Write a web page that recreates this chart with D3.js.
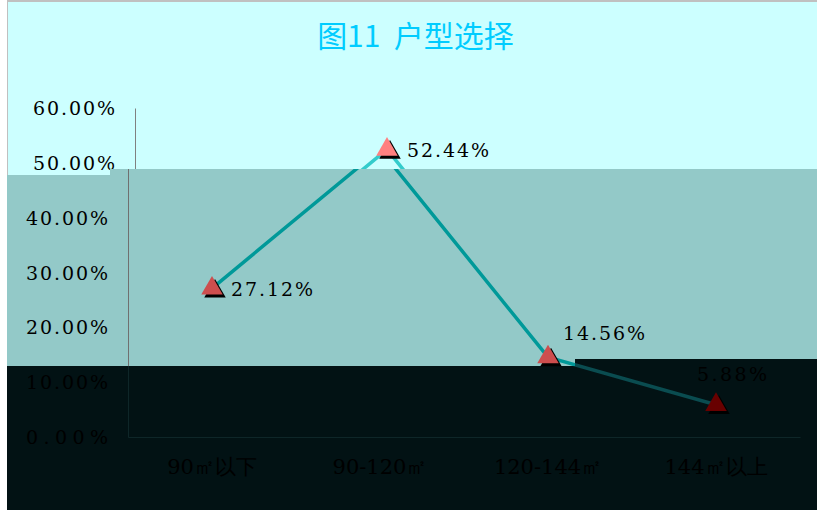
<!DOCTYPE html>
<html><head><meta charset="utf-8">
<script src="https://cdn.jsdelivr.net/npm/d3@7"></script>
<style>body{margin:0;background:#fff}svg{display:block}</style>
</head><body>
<svg id="c" width="817" height="510"></svg>
<script>
const title = "图11  户型选择";
const categories = ["90㎡以下", "90-120㎡", "120-144㎡", "144㎡以上"];
const values = [27.12, 52.44, 14.56, 5.88];
const yTicks = [0, 10, 20, 30, 40, 50, 60];

const W = 817, H = 510;
const svg = d3.select("#c");
const x = d3.scaleBand().domain(categories).range([128, 800]).padding(0);
const y = d3.scaleLinear().domain([0, 60]).range([437, 108]);
const fmt = v => v.toFixed(2) + "%";
const cx = i => x(categories[i]) + x.bandwidth() / 2;

const palettes = {
  top:  {bg:"#CCFFFF", line:"#33CCCC", tri:"#FF8080", axis:"#808080", text:"#000"},
  mid:  {bg:"#93C9C8", line:"#009999", tri:"#CD4E4E", axis:"#707070", text:"#000"},
  dark: {bg:"#021214", line:"#0A4C50", tri:"#680000", axis:"#0E2628", text:"#000"}
};

const defs = svg.append("defs");
const regions = {
  top: "M7,0 H817 V169 H110 V175 H7 Z",
  mid: "M7,175 H110 V169 H817 V359 H575 V366 H7 Z",
  dark: "M7,366 H575 V359 H817 V510 H7 Z"
};
Object.entries(regions).forEach(([k, d]) => {
  defs.append("clipPath").attr("id", "clip-" + k).append("path").attr("d", d);
});
function regionOf(px, py) {
  const midTop = px < 110 ? 175 : 169;
  const darkTop = px < 575 ? 366 : 359;
  return py < midTop ? "top" : (py < darkTop ? "mid" : "dark");
}

// label offsets relative to point
const labelPos = [[19, 8], [20, 8], [15, -17], [-19, -24]];
const serif = "'DejaVu Serif','Liberation Serif',serif";

function draw(key, dx) {
  const p = palettes[key];
  const outer = svg.append("g").attr("clip-path", `url(#clip-${key})`);
  outer.append("rect").attr("x", 0).attr("y", 0).attr("width", W).attr("height", H).attr("fill", p.bg);
  const g = outer.append("g").attr("transform", `translate(${dx},0)`);

  // title
  if (key === "top") {
    g.append("text").attr("x", W / 2).attr("y", 47).attr("text-anchor", "middle")
      .attr("font-family", "'Noto Sans CJK SC','Noto Sans',sans-serif").attr("font-size", 30)
      .attr("fill", "#00CCFF").attr("xml:space", "preserve").text(title);
  }

  // y axis
  const ya = g.append("g").attr("transform", "translate(128,0)")
    .call(d3.axisLeft(y).tickValues(yTicks).tickSize(0).tickPadding(20).tickFormat(fmt));
  ya.select(".domain").attr("stroke", p.axis).attr("stroke-width", 1);
  ya.selectAll(".tick").filter(d => regionOf(60, y(d)) !== key).remove();
  ya.selectAll("text").attr("font-family", serif).attr("font-size", 19).attr("fill", p.text)
    .attr("textLength", 82).attr("lengthAdjust", "spacing").attr("dy", "0.35em");

  // x axis
  const xa = g.append("g").attr("transform", "translate(0,437)")
    .call(d3.axisBottom(x).tickSize(0).tickPadding(22));
  xa.select(".domain").attr("stroke", p.axis).attr("stroke-width", 1);
  if (key !== "dark") xa.selectAll(".tick").remove();
  xa.selectAll("text").attr("font-family", serif).attr("font-size", 21).attr("fill", p.text);

  // line
  const line = d3.line().x((d, i) => cx(i)).y(d => y(d));
  g.append("path").datum(values).attr("d", line).attr("fill", "none")
    .attr("stroke", p.line).attr("stroke-width", 3.5).attr("stroke-linejoin", "round");

  // markers
  const tri = d3.symbol().type(d3.symbolTriangle).size(200);
  const pts = g.selectAll(".pt").data(values).join("g")
    .attr("transform", (d, i) => `translate(${cx(i)},${y(d)})`);
  pts.append("path").attr("d", tri).attr("transform", "translate(3,3)").attr("fill", "#000");
  pts.append("path").attr("d", tri).attr("fill", p.tri);

  // data labels (each drawn only in the region holding it)
  const lbl = values.map((v, i) => ({v, i, lx: cx(i) + labelPos[i][0], ly: y(v) + labelPos[i][1]}))
    .filter(d => regionOf(d.lx + 35, d.ly - 6) === key);
  g.selectAll(".lbl").data(lbl).join("text")
    .attr("x", d => d.lx).attr("y", d => d.ly)
    .attr("font-family", serif).attr("font-size", 19).attr("fill", p.text)
    .attr("textLength", d => d.v >= 10 ? 82 : 70).attr("lengthAdjust", "spacing")
    .text(d => fmt(d.v));
}

draw("top", 7);
draw("mid", 0);
draw("dark", 0);

// top border and left edge of top region
svg.append("line").attr("x1", 7).attr("x2", W).attr("y1", 1).attr("y2", 1).attr("stroke", "#C0C0C0").attr("stroke-width", 2);
svg.append("line").attr("x1", 7.5).attr("x2", 7.5).attr("y1", 0).attr("y2", 175).attr("stroke", "#C0C0C0").attr("stroke-width", 1);
</script>
</body></html>
